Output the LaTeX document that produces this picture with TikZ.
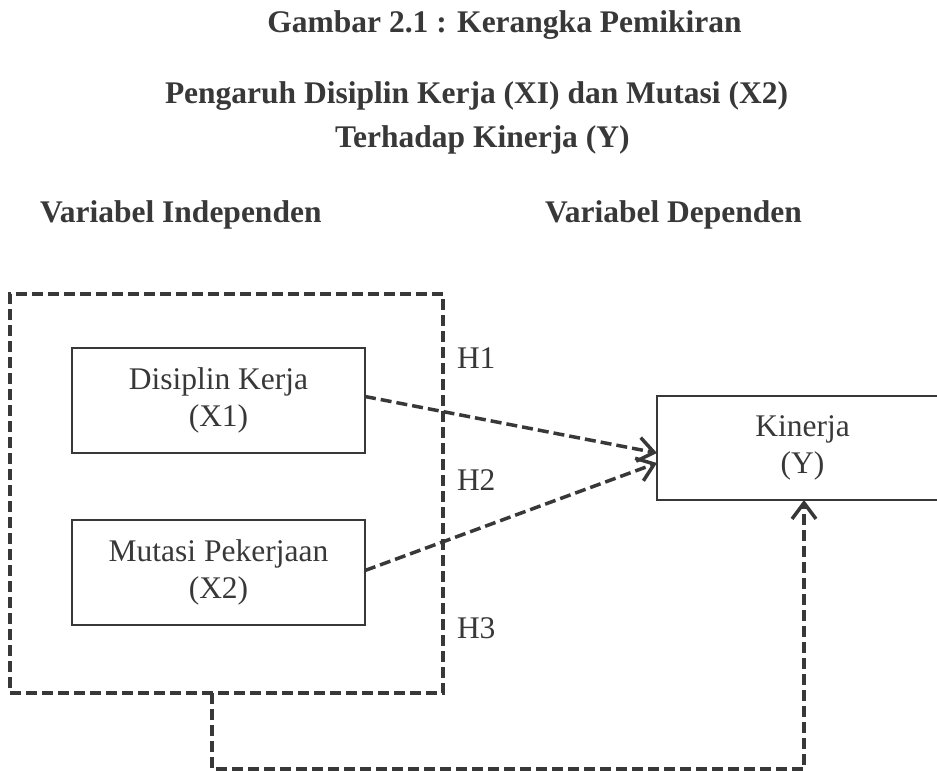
\documentclass[tikz,border=0pt]{standalone}
\usepackage{fontspec}
\setmainfont{Liberation Serif}
\usetikzlibrary{arrows.meta}
\definecolor{ink}{HTML}{383838}
\begin{document}
\begin{tikzpicture}[x=1pt,y=-1pt,
  every node/.style={text=ink,font=\fontsize{31.5}{37}\selectfont,inner sep=0pt,outer sep=0pt},
  heading/.style={font=\fontsize{31.5}{37}\selectfont\bfseries,anchor=base west},
  hlabel/.style={anchor=base west},
  varbox/.style={draw=ink,line width=2.5pt,align=center,minimum width=293pt,minimum height=105pt},
  groupbox/.style={draw=ink,line width=3.5pt,dash pattern=on 11pt off 5pt,minimum width=433pt,minimum height=399pt},
  dashline/.style={draw=ink,line width=3.5pt,dash pattern=on 11pt off 5pt},
  tip/.style={-{Straight Barb[length=16pt,width=24pt,line width=3.5pt]}}
]
\useasboundingbox (0,0) rectangle (937,771);
% titles
\node[heading,anchor=base] (title) at (504.5,32) {Gambar 2.1 : Kerangka Pemikiran};
\node[heading] (sub1) at (165,103) {Pengaruh Disiplin Kerja (XI) dan Mutasi (X2)};
\node[heading] (sub2) at (335,147) {Terhadap Kinerja (Y)};
\node[heading] (indep) at (40,222) {Variabel Independen};
\node[heading] (dep) at (545,222) {Variabel Dependen};
% boxes
\node[groupbox] (group) at (226.5,493.5) {};
\node[varbox] (disiplin) at (218.5,400.5) {Disiplin Kerja\\(X1)};
\node[varbox] (mutasi) at (218.5,572.5) {Mutasi Pekerjaan\\(X2)};
\node[varbox,minimum width=291pt,minimum height=104pt] (kinerja) at (802.5,448) {Kinerja\\(Y)};
% hypothesis labels
\node[hlabel] (h1) at (457,368) {H1};
\node[hlabel] (h2) at (457,490) {H2};
\node[hlabel] (h3) at (457,638) {H3};
% connectors
\draw[dashline,tip] ([yshift=4pt]disiplin.east) -- ([yshift=-5pt]kinerja.west);
\draw[dashline,tip] ([yshift=2pt]mutasi.east) -- ([yshift=-15pt]kinerja.west);
\coordinate (b1) at (212,769);
\coordinate (b2) at (804,769);
\draw[dashline,tip] (b1 |- group.south) -- (b1) -- (b2) -- (b2 |- kinerja.south);
\end{tikzpicture}
\end{document}
